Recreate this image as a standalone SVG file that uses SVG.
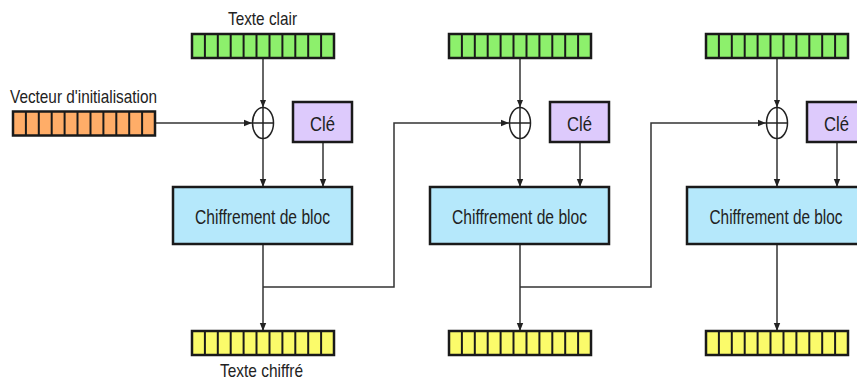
<svg xmlns="http://www.w3.org/2000/svg" width="857" height="380" viewBox="0 0 857 380">
<style>
.bar rect{stroke:#1a1a1a;stroke-width:2.5}
.bar line{stroke:#1a1a1a;stroke-width:2}
.box{stroke:#1a1a1a;stroke-width:2.5}
.conn{fill:none;stroke:#333;stroke-width:1.5}
.xor{fill:none;stroke:#222;stroke-width:1.5}
text{font-family:"Liberation Sans",Arial,sans-serif;fill:#222}
</style>
<defs>
<marker id="ah" markerUnits="userSpaceOnUse" markerWidth="8" markerHeight="8" viewBox="0 0 8 8" refX="8" refY="4" orient="auto">
<path d="M0,0.8 L8,4 L0,7.2 Z" fill="#222"/>
</marker>
<g id="bar" class="bar">
<rect x="0" y="0" width="142" height="24"/>
<line x1="12.9" y1="0" x2="12.9" y2="24"/><line x1="25.8" y1="0" x2="25.8" y2="24"/><line x1="38.7" y1="0" x2="38.7" y2="24"/><line x1="51.6" y1="0" x2="51.6" y2="24"/><line x1="64.5" y1="0" x2="64.5" y2="24"/><line x1="77.5" y1="0" x2="77.5" y2="24"/><line x1="90.4" y1="0" x2="90.4" y2="24"/><line x1="103.3" y1="0" x2="103.3" y2="24"/><line x1="116.2" y1="0" x2="116.2" y2="24"/><line x1="129.1" y1="0" x2="129.1" y2="24"/>
</g>
<g id="xorsym" class="xor">
<ellipse cx="0" cy="0" rx="10.5" ry="15.5"/>
<line x1="0" y1="-15.5" x2="0" y2="15.5"/>
<line x1="-10.5" y1="0" x2="10.5" y2="0"/>
</g>
</defs>
<rect width="857" height="380" fill="#fff"/>

<g id="connectors">
<line class="conn" x1="155" y1="123" x2="252" y2="123" marker-end="url(#ah)"/>
<line class="conn" x1="263" y1="58" x2="263" y2="107.5" marker-end="url(#ah)"/>
<line class="conn" x1="520" y1="58" x2="520" y2="107.5" marker-end="url(#ah)"/>
<line class="conn" x1="777" y1="58" x2="777" y2="107.5" marker-end="url(#ah)"/>
<line class="conn" x1="263" y1="138.5" x2="263" y2="187" marker-end="url(#ah)"/>
<line class="conn" x1="520" y1="138.5" x2="520" y2="187" marker-end="url(#ah)"/>
<line class="conn" x1="777" y1="138.5" x2="777" y2="187" marker-end="url(#ah)"/>
<line class="conn" x1="323" y1="142" x2="323" y2="187" marker-end="url(#ah)"/>
<line class="conn" x1="580" y1="142" x2="580" y2="187" marker-end="url(#ah)"/>
<line class="conn" x1="837" y1="142" x2="837" y2="187" marker-end="url(#ah)"/>
<line class="conn" x1="263" y1="244" x2="263" y2="331" marker-end="url(#ah)"/>
<line class="conn" x1="520" y1="244" x2="520" y2="331" marker-end="url(#ah)"/>
<line class="conn" x1="777" y1="244" x2="777" y2="331" marker-end="url(#ah)"/>
<polyline class="conn" points="263,287 394,287 394,123 509,123" marker-end="url(#ah)"/>
<polyline class="conn" points="520,287 651,287 651,123 766,123" marker-end="url(#ah)"/>
</g>

<g id="plain1"><use href="#bar" x="192" y="34" fill="#8df06c"/></g>
<g id="plain2"><use href="#bar" x="449" y="34" fill="#8df06c"/></g>
<g id="plain3"><use href="#bar" x="706" y="34" fill="#8df06c"/></g>
<g id="iv"><use href="#bar" x="13" y="111.5" fill="#ffad68"/></g>
<g id="cipher1"><use href="#bar" x="192" y="331" fill="#fbfb6a"/></g>
<g id="cipher2"><use href="#bar" x="449" y="331" fill="#fbfb6a"/></g>
<g id="cipher3"><use href="#bar" x="706" y="331" fill="#fbfb6a"/></g>

<g id="xor1"><use href="#xorsym" x="263" y="123"/></g>
<g id="xor2"><use href="#xorsym" x="520" y="123"/></g>
<g id="xor3"><use href="#xorsym" x="777" y="123"/></g>

<g id="key1"><rect class="box" x="293" y="102" width="59" height="40" fill="#ddcafc"/><text x="322.5" y="131" font-size="20" text-anchor="middle" textLength="25" lengthAdjust="spacingAndGlyphs">Clé</text></g>
<g id="key2"><rect class="box" x="550" y="102" width="59" height="40" fill="#ddcafc"/><text x="579.5" y="131" font-size="20" text-anchor="middle" textLength="25" lengthAdjust="spacingAndGlyphs">Clé</text></g>
<g id="key3"><rect class="box" x="807" y="102" width="59" height="40" fill="#ddcafc"/><text x="836.5" y="131" font-size="20" text-anchor="middle" textLength="25" lengthAdjust="spacingAndGlyphs">Clé</text></g>

<g id="block1"><rect class="box" x="173" y="187" width="179" height="57" fill="#b5e8fb"/><text x="262.5" y="224" font-size="20" text-anchor="middle" textLength="135" lengthAdjust="spacingAndGlyphs">Chiffrement de bloc</text></g>
<g id="block2"><rect class="box" x="430" y="187" width="179" height="57" fill="#b5e8fb"/><text x="519.5" y="224" font-size="20" text-anchor="middle" textLength="135" lengthAdjust="spacingAndGlyphs">Chiffrement de bloc</text></g>
<g id="block3"><rect class="box" x="687" y="187" width="179" height="57" fill="#b5e8fb"/><text x="776" y="224" font-size="20" text-anchor="middle" textLength="133" lengthAdjust="spacingAndGlyphs">Chiffrement de bloc</text></g>

<g id="labels">
<text x="262.5" y="25" font-size="19" text-anchor="middle" textLength="69" lengthAdjust="spacingAndGlyphs">Texte clair</text>
<text x="10" y="103" font-size="19" textLength="147" lengthAdjust="spacingAndGlyphs">Vecteur d'initialisation</text>
<text x="261.5" y="377" font-size="19" text-anchor="middle" textLength="83" lengthAdjust="spacingAndGlyphs">Texte chiffré</text>
</g>
</svg>
